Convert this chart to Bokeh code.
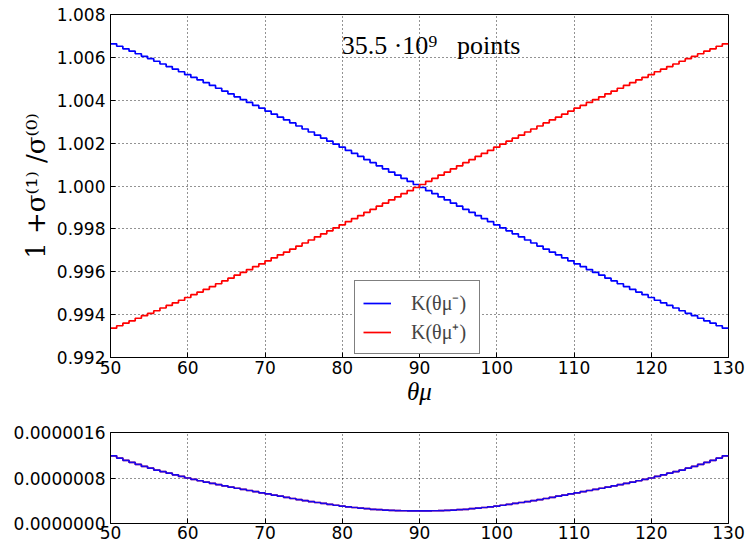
import numpy as np
from bokeh.plotting import figure
from bokeh.layouts import column
from bokeh.models import (Label, Legend, LegendItem, FixedTicker,
                          PrintfTickFormatter, Range1d)
from bokeh.embed import file_html
from bokeh.resources import INLINE

# ---------------- data ----------------
theta_min, theta_max, n_bins = 50, 130, 100

k_minus = [
    1.00663, 1.00652, 1.00640, 1.00629, 1.00617, 1.00605, 1.00594, 1.00582, 1.00569, 1.00557,
    1.00545, 1.00533, 1.00520, 1.00507, 1.00495, 1.00482, 1.00469, 1.00456, 1.00443, 1.00430,
    1.00416, 1.00403, 1.00390, 1.00376, 1.00363, 1.00349, 1.00335, 1.00321, 1.00308, 1.00294,
    1.00280, 1.00266, 1.00252, 1.00237, 1.00223, 1.00209, 1.00195, 1.00181, 1.00166, 1.00152,
    1.00138, 1.00123, 1.00109, 1.00094, 1.00080, 1.00065, 1.00051, 1.00036, 1.00022, 1.00007,
    0.99993, 0.99978, 0.99964, 0.99949, 0.99935, 0.99920, 0.99906, 0.99891, 0.99877, 0.99862,
    0.99848, 0.99834, 0.99819, 0.99805, 0.99791, 0.99777, 0.99763, 0.99748, 0.99734, 0.99720,
    0.99706, 0.99692, 0.99679, 0.99665, 0.99651, 0.99637, 0.99624, 0.99610, 0.99597, 0.99584,
    0.99570, 0.99557, 0.99544, 0.99531, 0.99518, 0.99505, 0.99493, 0.99480, 0.99467, 0.99455,
    0.99443, 0.99431, 0.99418, 0.99406, 0.99395, 0.99383, 0.99371, 0.99360, 0.99348, 0.99337,
]

k_plus = [
    0.99337, 0.99348, 0.99360, 0.99371, 0.99383, 0.99395, 0.99406, 0.99418, 0.99431, 0.99443,
    0.99455, 0.99467, 0.99480, 0.99493, 0.99505, 0.99518, 0.99531, 0.99544, 0.99557, 0.99570,
    0.99584, 0.99597, 0.99610, 0.99624, 0.99637, 0.99651, 0.99665, 0.99679, 0.99692, 0.99706,
    0.99720, 0.99734, 0.99748, 0.99763, 0.99777, 0.99791, 0.99805, 0.99819, 0.99834, 0.99848,
    0.99862, 0.99877, 0.99891, 0.99906, 0.99920, 0.99935, 0.99949, 0.99964, 0.99978, 0.99993,
    1.00007, 1.00022, 1.00036, 1.00051, 1.00065, 1.00080, 1.00094, 1.00109, 1.00123, 1.00138,
    1.00152, 1.00166, 1.00181, 1.00195, 1.00209, 1.00223, 1.00237, 1.00252, 1.00266, 1.00280,
    1.00294, 1.00308, 1.00321, 1.00335, 1.00349, 1.00363, 1.00376, 1.00390, 1.00403, 1.00416,
    1.00430, 1.00443, 1.00456, 1.00469, 1.00482, 1.00495, 1.00507, 1.00520, 1.00533, 1.00545,
    1.00557, 1.00569, 1.00582, 1.00594, 1.00605, 1.00617, 1.00629, 1.00640, 1.00652, 1.00663,
]

# statistical errors, in units of 1e-6
err_minus_e6 = [
    1.19, 1.15, 1.11, 1.074, 1.038, 1.004, 0.972, 0.94, 0.912, 0.884,
    0.856, 0.828, 0.80, 0.776, 0.752, 0.729, 0.707, 0.685, 0.663, 0.641,
    0.62, 0.60, 0.58, 0.56, 0.54, 0.52, 0.50, 0.48, 0.46, 0.44,
    0.421, 0.403, 0.385, 0.369, 0.353, 0.337, 0.321, 0.305, 0.293, 0.281,
    0.27, 0.26, 0.25, 0.243, 0.236, 0.231, 0.228, 0.224, 0.222, 0.221,
    0.221, 0.222, 0.224, 0.228, 0.231, 0.236, 0.243, 0.25, 0.26, 0.27,
    0.281, 0.293, 0.305, 0.321, 0.337, 0.353, 0.369, 0.385, 0.403, 0.421,
    0.44, 0.46, 0.48, 0.50, 0.52, 0.54, 0.56, 0.58, 0.60, 0.62,
    0.641, 0.663, 0.685, 0.707, 0.729, 0.752, 0.776, 0.80, 0.828, 0.856,
    0.884, 0.912, 0.94, 0.972, 1.004, 1.038, 1.074, 1.11, 1.15, 1.19,
]
err_plus_e6 = [
    1.19, 1.15, 1.11, 1.074, 1.038, 1.004, 0.972, 0.94, 0.912, 0.884,
    0.856, 0.828, 0.80, 0.776, 0.752, 0.729, 0.707, 0.685, 0.663, 0.641,
    0.62, 0.60, 0.58, 0.56, 0.54, 0.52, 0.50, 0.48, 0.46, 0.44,
    0.421, 0.403, 0.385, 0.369, 0.353, 0.337, 0.321, 0.305, 0.293, 0.281,
    0.27, 0.26, 0.25, 0.243, 0.236, 0.231, 0.228, 0.224, 0.222, 0.221,
    0.221, 0.222, 0.224, 0.228, 0.231, 0.236, 0.243, 0.25, 0.26, 0.27,
    0.281, 0.293, 0.305, 0.321, 0.337, 0.353, 0.369, 0.385, 0.403, 0.421,
    0.44, 0.46, 0.48, 0.50, 0.52, 0.54, 0.56, 0.58, 0.60, 0.62,
    0.641, 0.663, 0.685, 0.707, 0.729, 0.752, 0.776, 0.80, 0.828, 0.856,
    0.884, 0.912, 0.94, 0.972, 1.004, 1.038, 1.074, 1.11, 1.15, 1.19,
]

x_ticks = [50, 60, 70, 80, 90, 100, 110, 120, 130]
y_ticks_top = [0.992, 0.994, 0.996, 0.998, 1.000, 1.002, 1.004, 1.006, 1.008]
y_ticks_bot = [0.0, 0.0000008, 0.0000016]

NB = "\u00a0"
title_text = "35.5" + NB + "\u00b710\u2079" + NB * 3 + "points"
ylabel_text = "1 +\u03c3\u207d\u00b9\u207e /\u03c3\u207d\u2070\u207e"
xlabel_text = "\u03b8\u03bc"
legend_minus = "K(\u03b8\u03bc\u207b)" + NB
legend_plus = "K(\u03b8\u03bc\u207a)" + NB

# ---------------- helpers ----------------
edges = np.linspace(theta_min, theta_max, n_bins + 1)


def step_y(vals):
    return list(vals) + [vals[-1]]


TICK_FONT = "DejaVu Sans"
SERIF = "Liberation Serif"


def tick_style(ax):
    ax.axis_line_color = "black"
    ax.major_tick_in = 5
    ax.major_tick_out = 0
    ax.major_tick_line_color = "black"
    ax.minor_tick_line_color = None
    ax.major_label_text_font = TICK_FONT
    ax.major_label_text_font_size = "17px"
    ax.major_label_text_color = "black"
    ax.axis_label_text_color = "black"


def style(p, yticks, yfmt):
    p.background_fill_color = "white"
    p.border_fill_color = "white"
    p.outline_line_color = "black"
    p.outline_line_width = 1
    xa, ya = p.below[0], p.left[0]
    tick_style(xa)
    tick_style(ya)
    xa.ticker = FixedTicker(ticks=x_ticks)
    ya.ticker = FixedTicker(ticks=yticks)
    ya.formatter = PrintfTickFormatter(format=yfmt)
    xa.major_label_standoff = 3
    ya.major_label_standoff = 5
    for g in (p.xgrid[0], p.ygrid[0]):
        g.grid_line_color = "black"
        g.grid_line_alpha = 0.85
        g.grid_line_width = 1
        g.grid_line_dash = "1 3"
    return xa, ya


# ---------------- top panel ----------------
top = figure(width=748, height=420, output_backend="svg", toolbar_location=None,
             x_range=Range1d(theta_min, theta_max), y_range=Range1d(0.992, 1.008),
             min_border_left=110, min_border_right=20, min_border_top=14,
             min_border_bottom=63)
top_x, top_y = style(top, y_ticks_top, "%.3f")
top_y.axis_label = ylabel_text
top_y.axis_label_text_font = "DejaVu Serif"
top_y.axis_label_text_font_style = "normal"
top_y.axis_label_text_font_size = "26px"
top_y.axis_label_standoff = 3

top_x.axis_label = xlabel_text
top_x.axis_label_text_font = SERIF
top_x.axis_label_text_font_style = "italic"
top_x.axis_label_text_font_size = "25px"
top_x.axis_label_standoff = 1

r_minus = top.step(edges, step_y(k_minus), mode="after", line_color="#0000ff", line_width=1.7)
r_plus = top.step(edges, step_y(k_plus), mode="after", line_color="#ff0000", line_width=1.7)

legend = Legend(items=[LegendItem(label=legend_minus, renderers=[r_minus]),
                       LegendItem(label=legend_plus, renderers=[r_plus])],
                location=(244, 3))
legend.label_text_font = SERIF
legend.label_text_font_size = "20px"
legend.glyph_width = 28
legend.glyph_height = 20
legend.label_height = 20
legend.label_standoff = 20
legend.padding = 8
legend.spacing = 2
legend.margin = 0
legend.border_line_color = "black"
legend.border_line_width = 1
legend.background_fill_color = "white"
legend.background_fill_alpha = 1.0
top.add_layout(legend)

top.add_layout(Label(x=91.5, y=1.00655, text=title_text, text_font=SERIF,
                     text_font_size="26px", text_align="center",
                     text_baseline="middle", text_color="black"))

# ---------------- bottom panel ----------------
bot = figure(width=748, height=126, output_backend="svg", toolbar_location=None,
             x_range=Range1d(theta_min, theta_max), y_range=Range1d(0.0, 0.0000016),
             min_border_left=110, min_border_right=20, min_border_top=12,
             min_border_bottom=23)
bot_x, bot_y = style(bot, y_ticks_bot, "%.7f")
bot_x.major_label_standoff = 2

bot.step(edges, step_y(np.array(err_plus_e6) * 1e-6), mode="after",
         line_color="#ff0000", line_width=1.7, line_alpha=0.8)
bot.step(edges, step_y(np.array(err_minus_e6) * 1e-6), mode="after",
         line_color="#0000ff", line_width=1.7, line_alpha=0.9)

layout = column(top, bot, spacing=0)
open("out.html", "w").write(file_html(layout, INLINE))
